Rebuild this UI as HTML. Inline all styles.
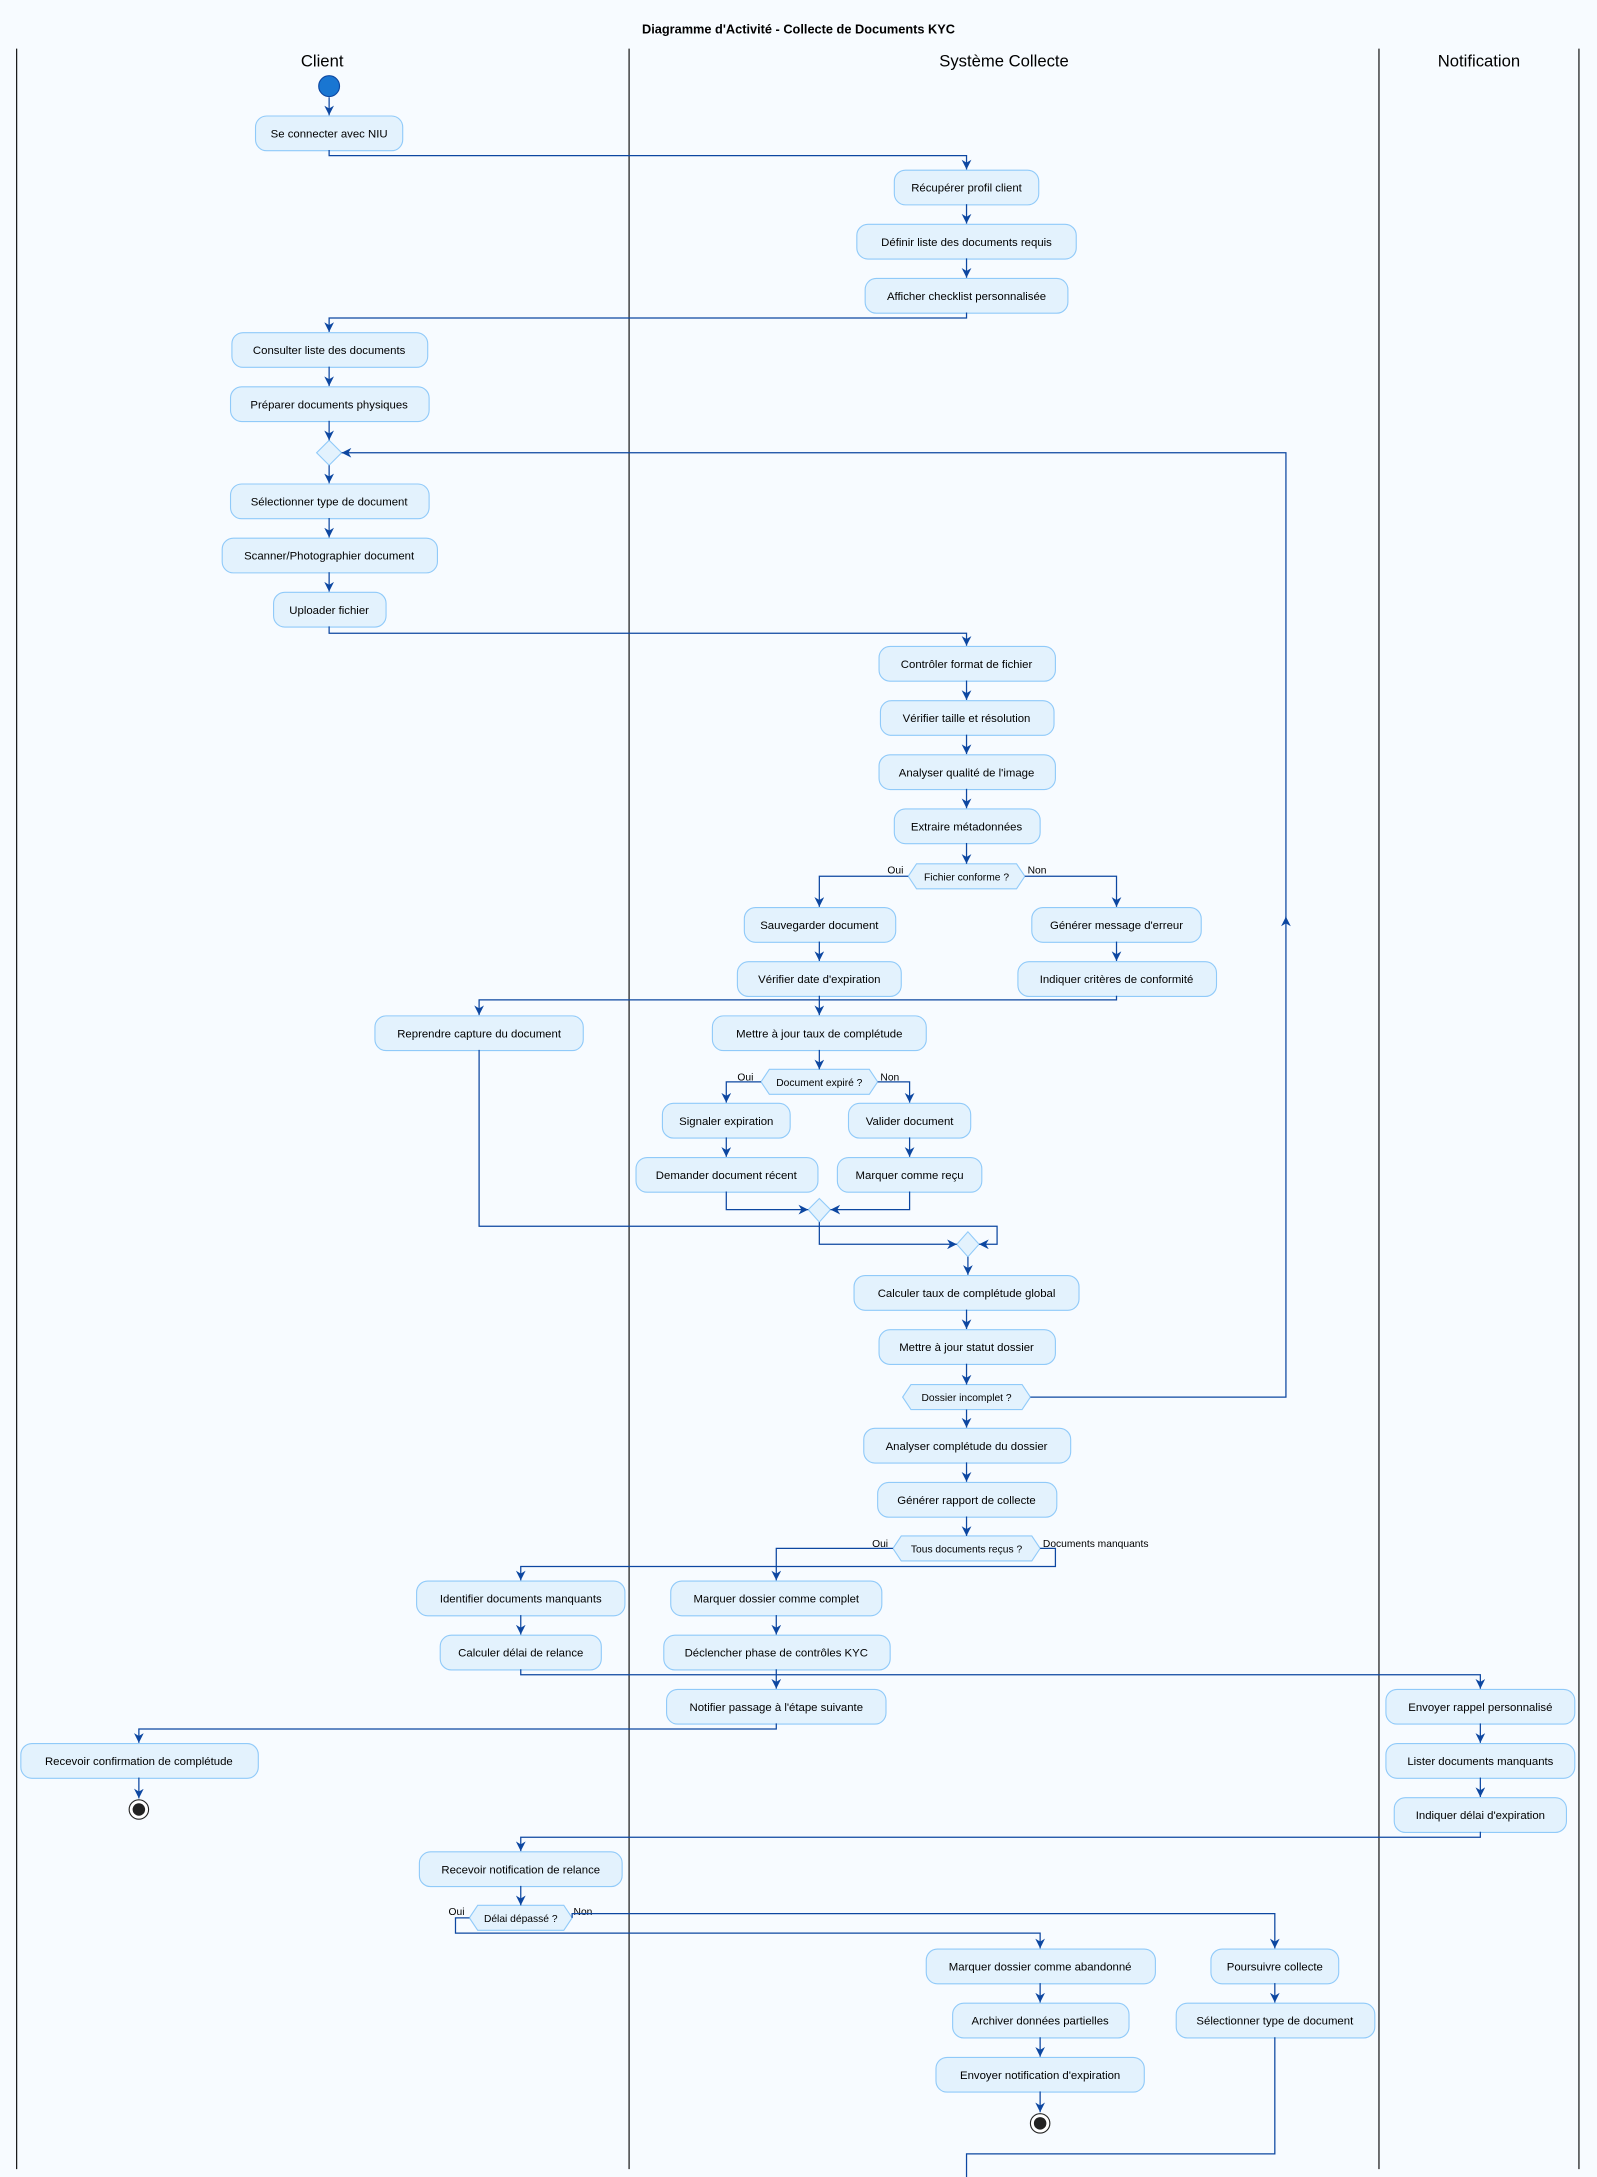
<!DOCTYPE html>
<html><head><meta charset="utf-8"><style>
html,body{margin:0;padding:0;background:#f7fbff;}
svg{display:block}
text{font-family:"Liberation Sans",sans-serif;fill:#000}
.n rect{fill:#e3f2fd;stroke:#90caf9;stroke-width:0.8}
.n text{font-size:8.2px;text-anchor:middle}
.l{fill:none;stroke:#0d47a1;stroke-width:0.9}
.lab{font-size:7.4px}
.h{fill:#e3f2fd;stroke:#90caf9;stroke-width:0.8}
</style></head><body>
<svg width="1597" height="2177" viewBox="0 0 1150 1567.6" xmlns="http://www.w3.org/2000/svg">
<defs><marker id="a" viewBox="0 0 10 10" refX="10" refY="5" markerWidth="7" markerHeight="7" markerUnits="userSpaceOnUse" orient="auto"><path d="M0,0 L10,5 L0,10 L3,5 z" fill="#0d47a1"/></marker></defs>
<rect width="1150" height="1568" fill="#f7fbff"/>
<text x="575" y="24" font-size="9.2" font-weight="bold" text-anchor="middle">Diagramme d'Activité - Collecte de Documents KYC</text>
<g stroke="#000" stroke-width="0.8"><line x1="12" y1="35" x2="12" y2="1562"/><line x1="453" y1="35" x2="453" y2="1562"/><line x1="993" y1="35" x2="993" y2="1562"/><line x1="1137" y1="35" x2="1137" y2="1562"/></g>
<text x="232" y="48" font-size="12" text-anchor="middle">Client</text>
<text x="723" y="48" font-size="12" text-anchor="middle">Système Collecte</text>
<text x="1065" y="48" font-size="12" text-anchor="middle">Notification</text>
<circle cx="237" cy="62" r="7.5" fill="#1976d2" stroke="#0d47a1" stroke-width="0.8"/>

<g class="n">
<rect x="184" y="83.5" width="106" height="25" rx="8"/><text x="237" y="99">Se connecter avec NIU</text>
<rect x="644" y="122.5" width="104" height="25" rx="8"/><text x="696" y="138">Récupérer profil client</text>
<rect x="617" y="161.5" width="158" height="25" rx="8"/><text x="696" y="177">Définir liste des documents requis</text>
<rect x="623" y="200.5" width="146" height="25" rx="8"/><text x="696" y="216">Afficher checklist personnalisée</text>
<rect x="167" y="239.5" width="141" height="25" rx="8"/><text x="237" y="255">Consulter liste des documents</text>
<rect x="166" y="278.5" width="143" height="25" rx="8"/><text x="237" y="294">Préparer documents physiques</text>
<rect x="166" y="348.5" width="143" height="25" rx="8"/><text x="237" y="364">Sélectionner type de document</text>
<rect x="160" y="387.5" width="155" height="25" rx="8"/><text x="237" y="403">Scanner/Photographier document</text>
<rect x="197" y="426.5" width="81" height="25" rx="8"/><text x="237" y="442">Uploader fichier</text>
<rect x="633" y="465.5" width="127" height="25" rx="8"/><text x="696" y="481">Contrôler format de fichier</text>
<rect x="634" y="504.5" width="125" height="25" rx="8"/><text x="696" y="520">Vérifier taille et résolution</text>
<rect x="633" y="543.5" width="127" height="25" rx="8"/><text x="696" y="559">Analyser qualité de l'image</text>
<rect x="644" y="582.5" width="105" height="25" rx="8"/><text x="696" y="598">Extraire métadonnées</text>
<rect x="536" y="653.5" width="109" height="25" rx="8"/><text x="590" y="669">Sauvegarder document</text>
<rect x="531" y="692.5" width="118" height="25" rx="8"/><text x="590" y="708">Vérifier date d'expiration</text>
<rect x="743" y="653.5" width="122" height="25" rx="8"/><text x="804" y="669">Générer message d'erreur</text>
<rect x="733" y="692.5" width="143" height="25" rx="8"/><text x="804" y="708">Indiquer critères de conformité</text>
<rect x="270" y="731.5" width="150" height="25" rx="8"/><text x="345" y="747">Reprendre capture du document</text>
<rect x="513" y="731.5" width="154" height="25" rx="8"/><text x="590" y="747">Mettre à jour taux de complétude</text>
<rect x="477" y="794.5" width="92" height="25" rx="8"/><text x="523" y="810">Signaler expiration</text>
<rect x="458" y="833.5" width="131" height="25" rx="8"/><text x="523" y="849">Demander document récent</text>
<rect x="611" y="794.5" width="88" height="25" rx="8"/><text x="655" y="810">Valider document</text>
<rect x="603" y="833.5" width="104" height="25" rx="8"/><text x="655" y="849">Marquer comme reçu</text>
<rect x="615" y="918.5" width="162" height="25" rx="8"/><text x="696" y="934">Calculer taux de complétude global</text>
<rect x="633" y="957.5" width="127" height="25" rx="8"/><text x="696" y="973">Mettre à jour statut dossier</text>
<rect x="622" y="1028.5" width="149" height="25" rx="8"/><text x="696" y="1044">Analyser complétude du dossier</text>
<rect x="632" y="1067.5" width="129" height="25" rx="8"/><text x="696" y="1083">Générer rapport de collecte</text>
<rect x="300" y="1138.5" width="150" height="25" rx="8"/><text x="375" y="1154">Identifier documents manquants</text>
<rect x="317" y="1177.5" width="116" height="25" rx="8"/><text x="375" y="1193">Calculer délai de relance</text>
<rect x="483" y="1138.5" width="152" height="25" rx="8"/><text x="559" y="1154">Marquer dossier comme complet</text>
<rect x="478" y="1177.5" width="163" height="25" rx="8"/><text x="559" y="1193">Déclencher phase de contrôles KYC</text>
<rect x="480" y="1216.5" width="158" height="25" rx="8"/><text x="559" y="1232">Notifier passage à l'étape suivante</text>
<rect x="15" y="1255.5" width="171" height="25" rx="8"/><text x="100" y="1271">Recevoir confirmation de complétude</text>
<rect x="998" y="1216.5" width="136" height="25" rx="8"/><text x="1066" y="1232">Envoyer rappel personnalisé</text>
<rect x="998" y="1255.5" width="136" height="25" rx="8"/><text x="1066" y="1271">Lister documents manquants</text>
<rect x="1004" y="1294.5" width="124" height="25" rx="8"/><text x="1066" y="1310">Indiquer délai d'expiration</text>
<rect x="302" y="1333.5" width="146" height="25" rx="8"/><text x="375" y="1349">Recevoir notification de relance</text>
<rect x="667" y="1403.5" width="165" height="25" rx="8"/><text x="749" y="1419">Marquer dossier comme abandonné</text>
<rect x="686" y="1442.5" width="127" height="25" rx="8"/><text x="749" y="1458">Archiver données partielles</text>
<rect x="674" y="1481.5" width="150" height="25" rx="8"/><text x="749" y="1497">Envoyer notification d'expiration</text>
<rect x="872" y="1403.5" width="92" height="25" rx="8"/><text x="918" y="1419">Poursuivre collecte</text>
<rect x="847" y="1442.5" width="143" height="25" rx="8"/><text x="918" y="1458">Sélectionner type de document</text>
</g>

<polygon class="h" points="237,317 246,326 237,335 228,326"/>
<polygon class="h" points="590,863 598,871 590,880 582,871"/>
<polygon class="h" points="697,887 705,896 697,905 689,896"/>
<polygon class="h" points="654,631 660,622 732,622 738,631 732,640 660,640"/>
<text x="696" y="634" font-size="7.4" text-anchor="middle">Fichier conforme ?</text>
<polygon class="h" points="548,779 554,770 626,770 632,779 626,788 554,788"/>
<text x="590" y="782" font-size="7.4" text-anchor="middle">Document expiré ?</text>
<polygon class="h" points="650,1006 656,997 736,997 742,1006 736,1015 656,1015"/>
<text x="696" y="1009" font-size="7.4" text-anchor="middle">Dossier incomplet ?</text>
<polygon class="h" points="643,1115 649,1106 743,1106 749,1115 743,1124 649,1124"/>
<text x="696" y="1118" font-size="7.4" text-anchor="middle">Tous documents reçus ?</text>
<polygon class="h" points="338,1381 344,1372 406,1372 412,1381 406,1390 344,1390"/>
<text x="375" y="1384" font-size="7.4" text-anchor="middle">Délai dépassé ?</text>

<text class="lab" x="639" y="629">Oui</text><text class="lab" x="740" y="629">Non</text>
<text class="lab" x="531" y="778">Oui</text><text class="lab" x="634" y="778">Non</text>
<text class="lab" x="628" y="1114">Oui</text><text class="lab" x="751" y="1114">Documents manquants</text>
<text class="lab" x="323" y="1379">Oui</text><text class="lab" x="413" y="1379">Non</text>

<circle cx="100" cy="1303" r="7" fill="#fff" stroke="#222" stroke-width="0.8"/><circle cx="100" cy="1303" r="4.5" fill="#222"/>
<circle cx="749" cy="1529" r="7" fill="#fff" stroke="#222" stroke-width="0.8"/><circle cx="749" cy="1529" r="4.5" fill="#222"/>

<g class="l" marker-end="url(#a)">
<polyline points="237,70 237,83"/>
<polyline points="237,108 237,112 696,112 696,122"/>
<polyline points="696,147 696,161"/>
<polyline points="696,186 696,200"/>
<polyline points="696,225 696,229 237,229 237,239"/>
<polyline points="237,264 237,278"/>
<polyline points="237,303 237,317"/>
<polyline points="237,335 237,348"/>
<polyline points="237,373 237,387"/>
<polyline points="237,412 237,426"/>
<polyline points="237,451 237,456 696,456 696,465"/>
<polyline points="696,490 696,504"/>
<polyline points="696,529 696,543"/>
<polyline points="696,568 696,582"/>
<polyline points="696,607 696,622"/>
<polyline points="654,631 590,631 590,653"/>
<polyline points="738,631 804,631 804,653"/>
<polyline points="590,678 590,692"/>
<polyline points="804,678 804,692"/>
<polyline points="590,717 590,731"/>
<polyline points="804,717 804,720 345,720 345,731"/>
<polyline points="590,756 590,770"/>
<polyline points="548,779 523,779 523,794"/>
<polyline points="632,779 655,779 655,794"/>
<polyline points="523,819 523,833"/>
<polyline points="655,819 655,833"/>
<polyline points="523,858 523,871 582,871"/>
<polyline points="655,858 655,871 598,871"/>
<polyline points="590,880 590,896 689,896"/>
<polyline points="345,756 345,883 718,883 718,896 705,896"/>
<polyline points="697,905 697,918"/>
<polyline points="696,943 696,957"/>
<polyline points="696,982 696,997"/>
<polyline points="696,1015 696,1028"/>
<polyline points="696,1053 696,1067"/>
<polyline points="696,1092 696,1106"/>
<polyline points="643,1115 559,1115 559,1138"/>
<polyline points="749,1115 760,1115 760,1128 375,1128 375,1138"/>
<polyline points="375,1163 375,1177"/>
<polyline points="559,1163 559,1177"/>
<polyline points="559,1202 559,1216"/>
<polyline points="375,1202 375,1206 1066,1206 1066,1216"/>
<polyline points="559,1241 559,1245 100,1245 100,1255"/>
<polyline points="100,1280 100,1295"/>
<polyline points="1066,1241 1066,1255"/>
<polyline points="1066,1280 1066,1294"/>
<polyline points="1066,1319 1066,1323 375,1323 375,1333"/>
<polyline points="375,1358 375,1372"/>
<polyline points="338,1381 328,1381 328,1392 749,1392 749,1403"/>
<polyline points="412,1381 412,1378 918,1378 918,1403"/>
<polyline points="749,1428 749,1442"/>
<polyline points="749,1467 749,1481"/>
<polyline points="749,1506 749,1521"/>
<polyline points="918,1428 918,1442"/>
<polyline points="742,1006 926,1006 926,660"/>
<polyline points="926,665 926,326 246,326"/>
</g>
<polyline class="l" points="918,1467 918,1551 696,1551 696,1568"/>
</svg>
</body></html>
